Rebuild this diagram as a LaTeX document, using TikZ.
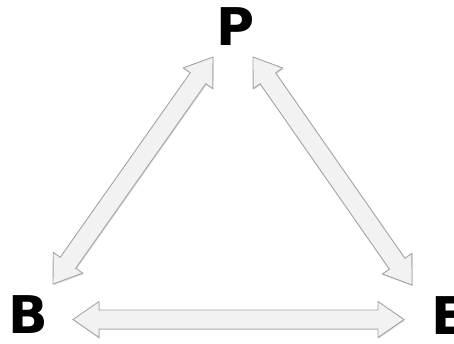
\documentclass[tikz,border=0pt]{standalone}
\usepackage{fontspec}
\setmainfont{DejaVu Sans}
\usetikzlibrary{calc,shadows}

% shaft half-width, head half-width, head length
\def\shw{9.5pt}
\def\hhw{18pt}
\def\hl{26pt}

\tikzset{
  letter/.style={font=\bfseries\fontsize{52}{52}\selectfont, inner sep=0pt, anchor=base},
  blockarrow/.style={fill=gray!10, draw=gray!72, line width=0.9pt, line join=miter,
    drop shadow={shadow xshift=0.8pt, shadow yshift=-1.2pt, opacity=0.25, fill=gray}},
}

% double-headed block arrow between two named coordinates
\newcommand\dblarrow[2]{%
  \draw[blockarrow]
    (#1)
    -- ($(#1)!\hl!(#2)!\hhw!90:(#2)$)
    -- ($(#1)!\hl!(#2)!\shw!90:(#2)$)
    -- ($(#2)!\hl!(#1)!\shw!-90:(#1)$)
    -- ($(#2)!\hl!(#1)!\hhw!-90:(#1)$)
    -- (#2)
    -- ($(#2)!\hl!(#1)!\hhw!90:(#1)$)
    -- ($(#2)!\hl!(#1)!\shw!90:(#1)$)
    -- ($(#1)!\hl!(#2)!\shw!-90:(#2)$)
    -- ($(#1)!\hl!(#2)!\hhw!-90:(#2)$)
    -- cycle;
}

\begin{document}
\begin{tikzpicture}[x=1pt, y=-1pt]
  \useasboundingbox (0,0) rectangle (454,343);

  \node[letter] (P) at (235.5,45) {P};
  \node[letter] (B) at (28.5,333) {B};
  \node[letter] (E) at (449,334) {E};

  % arrow end points
  \coordinate (PB) at (213,57);
  \coordinate (BP) at (53,284);
  \coordinate (PE) at (253,57);
  \coordinate (EP) at (412,285);
  \coordinate (BE) at (73,319.5);
  \coordinate (EB) at (404,319.5);

  \dblarrow{BP}{PB}
  \dblarrow{PE}{EP}
  \dblarrow{BE}{EB}
\end{tikzpicture}
\end{document}
